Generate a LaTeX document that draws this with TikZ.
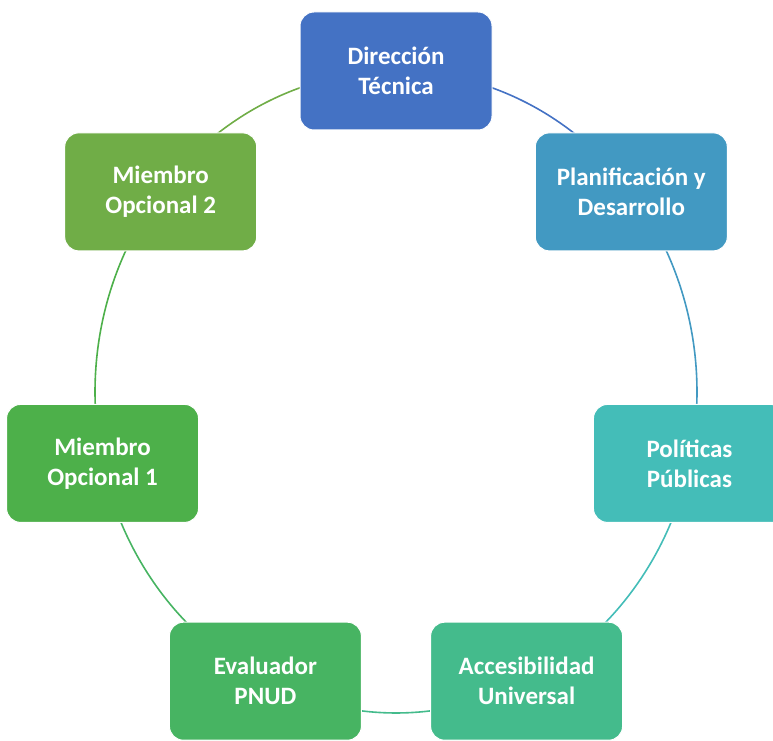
\documentclass[tikz,border=0pt]{standalone}
\usepackage{fontspec}
\setmainfont{Carlito}
\usetikzlibrary{backgrounds,calc}

\definecolor{cDir}{HTML}{4472C4}
\definecolor{cPlan}{HTML}{4299C2}
\definecolor{cPol}{HTML}{44BDB8}
\definecolor{cAcc}{HTML}{44BB8C}
\definecolor{cEval}{HTML}{47B462}
\definecolor{cMiemA}{HTML}{4DB04A}
\definecolor{cMiemB}{HTML}{70AD47}

\begin{document}
\begin{tikzpicture}[x=1pt,y=1pt]
  \tikzstyle{member}=[rectangle,rounded corners=14pt,draw=white,line width=1pt,
    minimum width=192pt,minimum height=118pt,align=center,text=white,
    font=\fontsize{25}{30}\selectfont\bfseries]
  \tikzstyle{ring}=[line width=1.6pt,x radius=301pt,y radius=321pt]
  \useasboundingbox (0,0) rectangle (773,740);
  \coordinate (c) at (396,348);

  % Members
  \node[member,fill=cDir]   (dt)  at ($(c)+(90:301 and 321)$)      {Dirección\\Técnica};
  \node[member,fill=cPlan]  (pd)  at ($(c)+(38.571:301 and 321)$)  {Planificación y\\Desarrollo};
  \node[member,fill=cPol]   (pp)  at ($(c)+(-12.857:301 and 321)$) {Políticas\\Públicas};
  \node[member,fill=cAcc]   (au)  at ($(c)+(-64.286:301 and 321)$) {Accesibilidad\\Universal};
  \node[member,fill=cEval]  (ep)  at ($(c)+(-115.714:301 and 321)$) {Evaluador\\PNUD};
  \node[member,fill=cMiemA] (mo1) at ($(c)+(-167.143:301 and 321)$) {Miembro\\Opcional 1};
  \node[member,fill=cMiemB] (mo2) at ($(c)+(141.429:301 and 321)$) {Miembro\\Opcional 2};

  % Ring
  \begin{scope}[on background layer]
    \draw[ring,cDir]   (dt.center)  arc[start angle=90,end angle=38.571];
    \draw[ring,cPlan]  (pd.center)  arc[start angle=38.571,end angle=-12.857];
    \draw[ring,cPol]   (pp.center)  arc[start angle=-12.857,end angle=-64.286];
    \draw[ring,cAcc]   (au.center)  arc[start angle=-64.286,end angle=-115.714];
    \draw[ring,cEval]  (ep.center)  arc[start angle=-115.714,end angle=-167.143];
    \draw[ring,cMiemA] (mo1.center) arc[start angle=-167.143,end angle=-218.571];
    \draw[ring,cMiemB] (mo2.center) arc[start angle=141.429,end angle=90];
  \end{scope}
\end{tikzpicture}
\end{document}
